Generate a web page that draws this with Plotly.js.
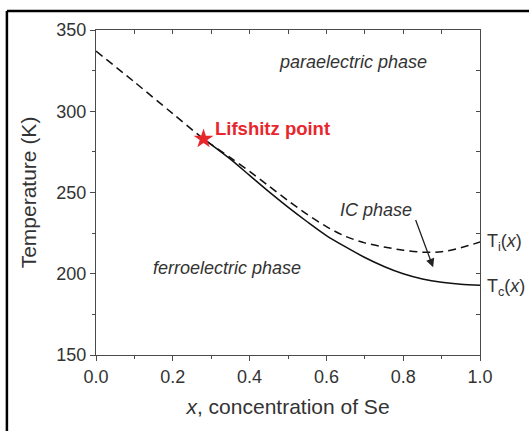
<!DOCTYPE html>
<html>
<head>
<meta charset="utf-8">
<script src="https://cdn.plot.ly/plotly-3.0.1.min.js"></script>
<style>
  html, body { margin: 0; padding: 0; background: #fff; }
  #chart { width: 529px; height: 431px; }
</style>
</head>
<body>
<div id="chart"></div>
<script>
// Se concentration grid and transition temperatures (K)
const xTi = [0.0, 0.1, 0.2, 0.28, 0.35, 0.4, 0.45, 0.5, 0.55, 0.6, 0.65, 0.7, 0.75, 0.8, 0.85, 0.9, 0.95, 1.0];
const Ti  = [337, 318, 298.5, 283, 271.5, 263, 254, 245, 236.5, 229, 223, 219, 216.5, 214.5, 213.3, 213.5, 216, 219.5];

const xTc = [0.28, 0.3, 0.35, 0.4, 0.45, 0.5, 0.55, 0.6, 0.65, 0.7, 0.75, 0.8, 0.85, 0.9, 0.95, 1.0];
const Tc  = [283, 279.5, 270.5, 260.5, 250.5, 241, 232, 223.5, 216.5, 210, 204.5, 200, 196.8, 194.7, 193.5, 193];

const lifshitzX = [0.28];
const lifshitzT = [283];

const xTickVals = [0, 0.2, 0.4, 0.6, 0.8, 1.0];
const xTickText = ['0.0', '0.2', '0.4', '0.6', '0.8', '1.0'];
const yTickVals = [150, 200, 250, 300, 350];

const FONT = 'Liberation Sans, Arial, sans-serif';
const AX = '#4a4a4a';

const traces = [
  { x: xTi, y: Ti, mode: 'lines', line: { color: '#111', width: 1.5, dash: '8px,5px', shape: 'spline', smoothing: 0.8 }, hoverinfo: 'skip' },
  { x: xTc, y: Tc, mode: 'lines', line: { color: '#111', width: 1.5, shape: 'spline', smoothing: 0.8 }, hoverinfo: 'skip' },
  { x: lifshitzX, y: lifshitzT, mode: 'markers', marker: { symbol: 'star', size: 15, color: '#e8262e', line: { width: 0 } }, hoverinfo: 'skip' },
  // carrier trace for the mirrored top/right frame axes
  { x: [0.5], y: [250], xaxis: 'x2', yaxis: 'y2', mode: 'markers', marker: { opacity: 0 }, hoverinfo: 'skip' }
];

const layout = {
  width: 529, height: 431,
  margin: { l: 96, r: 49, t: 30, b: 76 },
  paper_bgcolor: '#fff', plot_bgcolor: '#fff',
  showlegend: false,
  font: { family: FONT, color: '#333' },
  xaxis: {
    range: [0, 1], showgrid: false, zeroline: false,
    showline: true, linecolor: AX, linewidth: 1,
    tickmode: 'array', tickvals: xTickVals, ticktext: xTickText,
    ticks: 'outside', ticklen: 5, tickcolor: AX, tickwidth: 1,
    minor: { ticks: 'outside', ticklen: 3, dtick: 0.1, tickcolor: AX, showgrid: false },
    tickfont: { size: 18, color: '#333' },
    title: { text: '<i>x</i>, concentration of Se', font: { size: 21, color: '#333' }, standoff: 13 }
  },
  yaxis: {
    range: [150, 350], showgrid: false, zeroline: false,
    showline: true, linecolor: AX, linewidth: 1,
    tickmode: 'array', tickvals: yTickVals,
    ticks: 'outside', ticklen: 5, tickcolor: AX, tickwidth: 1,
    minor: { ticks: 'outside', ticklen: 3, dtick: 25, tickcolor: AX, showgrid: false },
    tickfont: { size: 18, color: '#333' },
    title: { text: 'Temperature (K)', font: { size: 21, color: '#333' }, standoff: 14 }
  },
  xaxis2: {
    overlaying: 'x', side: 'top', matches: 'x', range: [0, 1],
    showgrid: false, zeroline: false, showline: true, linecolor: AX, linewidth: 1,
    ticks: 'inside', ticklen: 4, dtick: 0.1, tickcolor: AX, showticklabels: false
  },
  yaxis2: {
    overlaying: 'y', side: 'right', range: [150, 350],
    showgrid: false, zeroline: false, showline: true, linecolor: AX, linewidth: 1,
    ticks: 'inside', ticklen: 4, dtick: 25, tickcolor: AX, showticklabels: false
  },
  annotations: [
    { x: 0.669, y: 330.5, xref: 'x', yref: 'y', text: '<i>paraelectric phase</i>', showarrow: false, font: { size: 18, color: '#333' } },
    { x: 0.342, y: 203.5, xref: 'x', yref: 'y', text: '<i>ferroelectric phase</i>', showarrow: false, font: { size: 18, color: '#333' } },
    { x: 0.729, y: 239.5, xref: 'x', yref: 'y', text: '<i>IC phase</i>', showarrow: false, font: { size: 18, color: '#333' } },
    { x: 0.878, y: 204, xref: 'x', yref: 'y', ax: 0.831, ay: 234, axref: 'x', ayref: 'y', text: '', showarrow: true, arrowhead: 2, arrowsize: 1.3, arrowwidth: 1.3, arrowcolor: '#222' },
    { x: 0.305, y: 289.5, xref: 'x', yref: 'y', xanchor: 'left', text: '<b>Lifshitz point</b>', showarrow: false, font: { size: 18.5, color: '#e8262e' } },
    { x: 1.013, y: 219, xref: 'paper', yref: 'y', xanchor: 'left', text: 'T<sub>i</sub>(<i>x</i>)', showarrow: false, font: { size: 18, color: '#333' } },
    { x: 1.013, y: 191.5, xref: 'paper', yref: 'y', xanchor: 'left', text: 'T<sub>c</sub>(<i>x</i>)', showarrow: false, font: { size: 18, color: '#333' } }
  ],
  shapes: [
    { type: 'line', xref: 'paper', yref: 'paper', x0: -0.232, x1: 1.2, y0: 1.0585, y1: 1.0585, line: { color: '#000', width: 2.5 } },
    { type: 'line', xref: 'paper', yref: 'paper', x0: -0.232, x1: -0.232, y0: 1.0585, y1: -0.3, line: { color: '#000', width: 2.5 } }
  ]
};

Plotly.newPlot('chart', traces, layout, { staticPlot: true, displayModeBar: false });
</script>
</body>
</html>
